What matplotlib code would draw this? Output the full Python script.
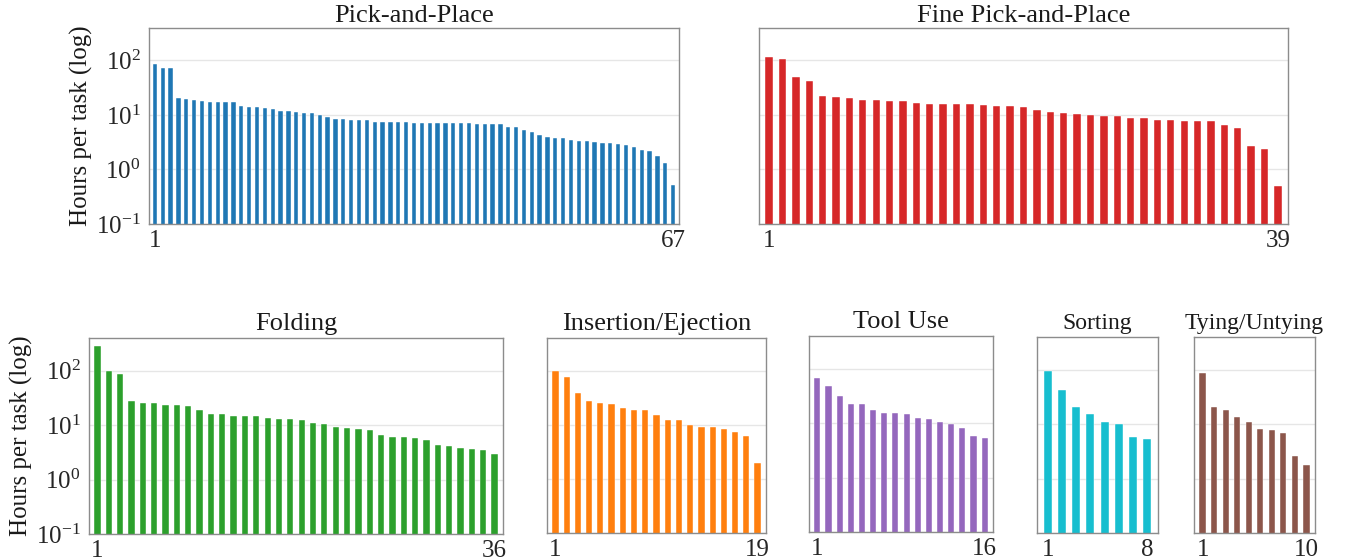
import matplotlib
matplotlib.use('Agg')
import matplotlib.pyplot as plt

plt.rcParams['font.family'] = ['Liberation Serif', 'DejaVu Serif']
plt.rcParams['mathtext.fontset'] = 'stix'

# Horas por tarea, ordenadas de mayor a menor
pick_place = [87, 73, 73, 20.5, 19.6, 18.5, 17.8, 17.3, 17, 17, 17, 14.4, 14, 13.8,
              13.2, 12.9, 12, 11.8, 11.5, 11.0, 10.7, 10.1, 9.2, 8.4, 8.3, 8.1, 7.9,
              7.9, 7.4, 7.4, 7.4, 7.3, 7.3, 7.2, 7.2, 7.2, 7.1, 7.1, 7.1, 7.0, 7.0,
              6.9, 6.9, 6.85, 6.85, 6.1, 5.9, 5.2, 4.8, 4.2, 4.0, 3.8, 3.7, 3.5, 3.3,
              3.3, 3.2, 3.1, 3.0, 2.9, 2.8, 2.6, 2.3, 2.2, 1.8, 1.3, 0.52]
fine_pick_place = [115, 104, 49, 41, 22, 21, 20, 19.1, 18.5, 18, 17.7, 16.3, 16.1,
                   16.1, 15.6, 15.6, 15.4, 14.6, 14.4, 14.2, 12.2, 11.2, 10.9, 10.4,
                   10.0, 9.7, 9.4, 8.9, 8.7, 8.1, 8.1, 7.8, 7.6, 7.6, 6.6, 5.7, 2.65,
                   2.4, 0.5]
folding = [286, 100, 87, 27.5, 25.2, 25.2, 23.5, 23.2, 22.3, 18.8, 16.1, 15.9, 14.6,
           14.6, 14.6, 13.4, 13.1, 12.9, 12.7, 10.9, 10.3, 9.1, 8.7, 8.5, 8.2, 6.7,
           6.1, 6.0, 5.7, 5.3, 4.25, 4.2, 3.8, 3.65, 3.55, 3.0]
insertion = [98, 75, 38, 27, 25, 24.5, 20.8, 18.8, 18.5, 15.0, 12.3, 12.3, 9.7, 9.1,
             8.9, 8.4, 7.4, 6.3, 1.97]
tool_use = [69, 49, 32, 22.7, 22.7, 17.3, 15.5, 15.1, 14.9, 12.5, 12.0, 10.7, 9.7,
            8.0, 5.85, 5.4]
sorting = [94, 42, 20.3, 15.3, 10.9, 10.1, 5.8, 5.3]
tying = [86, 20.3, 18.4, 13.3, 10.9, 8.2, 7.8, 7.0, 2.6, 1.76]

titles = ['Pick-and-Place', 'Fine Pick-and-Place', 'Folding', 'Insertion/Ejection',
          'Tool Use', 'Sorting', 'Tying/Untying']
series = [pick_place, fine_pick_place, folding, insertion, tool_use, sorting, tying]
colors = ['tab:blue', 'tab:red', 'tab:green', 'tab:orange', 'tab:purple',
          'tab:cyan', 'tab:brown']

W, H = 1347, 559
# cajas de los ejes en píxeles: izquierda, derecha, arriba, abajo
boxes = [(149, 679, 27.5, 224), (759, 1288, 27.5, 224),
         (89, 503, 338, 534), (547, 766, 338, 533), (809, 993, 336, 532),
         (1037, 1158, 337, 533), (1194, 1315, 337, 533)]
title_sizes = [19, 19, 19, 19, 19, 17, 17]
title_pads = [3.5, 3.5, 6, 6, 6, 6, 6]

fig = plt.figure(figsize=(W / 100, H / 100), dpi=100)

for i, (vals, title, col, box) in enumerate(zip(series, titles, colors, boxes)):
    l, r, t, b = box
    ax = fig.add_axes([l / W, 1 - b / H, (r - l) / W, (b - t) / H])
    n = len(vals)
    x = list(range(1, n + 1))
    ax.bar(x, vals, width=0.55, color=col, edgecolor='white', linewidth=0.3, zorder=2)
    ax.set_yscale('log')
    ax.set_ylim(0.1, 400)
    ax.set_xlim(0.25, n + 0.75)
    ax.set_xticks([1, n])
    ax.set_xticklabels(['1', str(n)])
    ax.set_yticks([0.1, 1, 10, 100])
    ax.minorticks_off()
    ax.grid(axis='y', color='#e6e6e6', linewidth=1, zorder=0)
    ax.set_axisbelow(True)
    for s in ax.spines.values():
        s.set_color('#8c8c8c')
        s.set_linewidth(1)
    ax.tick_params(length=0, labelsize=18, colors='#262626')
    ax.tick_params(axis='x', pad=4)
    ax.tick_params(axis='y', pad=6)
    ax.set_title(title, fontsize=title_sizes[i], color='#1a1a1a', pad=title_pads[i])
    if i in (0, 2):
        ax.set_ylabel('Hours per task (log)', fontsize=18, color='#1a1a1a', labelpad=2)
    else:
        ax.set_yticklabels([])

fig.savefig('out.png', dpi=100)
